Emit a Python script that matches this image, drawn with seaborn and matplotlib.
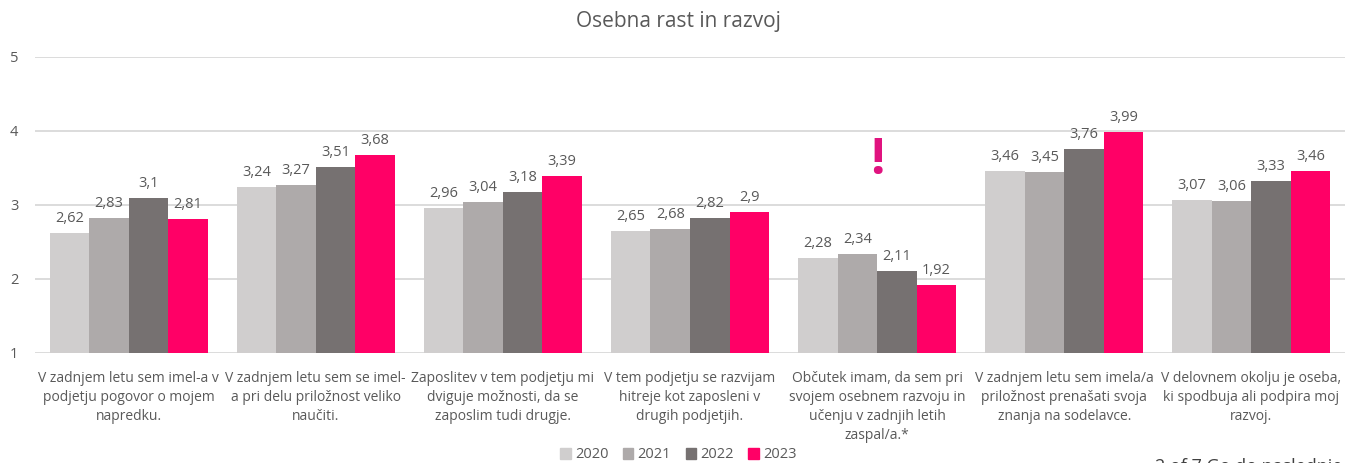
import numpy as np
import pandas as pd
import seaborn as sns
import matplotlib.pyplot as plt

# --------------------------------------------------#
# Data
# --------------------------------------------------#

categories = [
    "V zadnjem letu sem imel-a v\npodjetju pogovor o mojem\nnapredku.",
    "V zadnjem letu sem se imel-\na pri delu priložnost veliko\nnaučiti.",
    "Zaposlitev v tem podjetju mi\ndviguje možnosti, da se\nzaposlim tudi drugje.",
    "V tem podjetju se razvijam\nhitreje kot zaposleni v\ndrugih podjetjih.",
    "Občutek imam, da sem pri\nsvojem osebnem razvoju in\nučenju v zadnjih letih\nzaspal/a.*",
    "V zadnjem letu sem imela/a\npriložnost prenašati svoja\nznanja na sodelavce.",
    "V delovnem okolju je oseba,\nki spodbuja ali podpira moj\nrazvoj.",
]
years = ["2020", "2021", "2022", "2023"]
v2020 = [2.62, 3.24, 2.96, 2.65, 2.28, 3.46, 3.07]
v2021 = [2.83, 3.27, 3.04, 2.68, 2.34, 3.45, 3.06]
v2022 = [3.10, 3.51, 3.18, 2.82, 2.11, 3.76, 3.33]
v2023 = [2.81, 3.68, 3.39, 2.90, 1.92, 3.99, 3.46]

colors = ["#D0CECE", "#AEAAAA", "#767171", "#FF0066"]
text_col = "#595959"

df = pd.DataFrame({
    "cat": categories * 4,
    "year": np.repeat(years, len(categories)),
    "val": v2020 + v2021 + v2022 + v2023,
})

# --------------------------------------------------#
# Plot
# --------------------------------------------------#

sns.set_style("white")
plt.rcParams["font.family"] = ["Open Sans", "DejaVu Sans"]

fig = plt.figure(figsize=(13.57, 4.63), dpi=100)
ax = fig.add_axes([35 / 1357, 1 - 353 / 463, 1310 / 1357, 296 / 463])

sns.barplot(data=df, x="cat", y="val", hue="year", palette=colors,
            width=0.845, gap=0, saturation=1, linewidth=0, ax=ax, legend=False)

# bars start at 1 (Excel axis minimum)
for p in ax.patches:
    h = p.get_height()
    p.set_y(1)
    p.set_height(h - 1)

for cont, vals in zip(ax.containers, [v2020, v2021, v2022, v2023]):
    ax.bar_label(cont, labels=[f"{v:g}".replace(".", ",") for v in vals],
                 padding=5, fontsize=10.5, color=text_col)

ax.set_ylim(1, 5)
ax.set_xlim(-0.5, len(categories) - 0.5)
ax.set_yticks([1, 2, 3, 4, 5])
ax.yaxis.grid(True, color="#D9D9D9", linewidth=1.3)
ax.set_axisbelow(True)
for s in ax.spines.values():
    s.set_visible(False)
ax.tick_params(axis="both", length=0, labelsize=10.5, colors=text_col)
ax.tick_params(axis="y", pad=12)
ax.set_xticks(range(len(categories)))
ax.set_xticklabels(categories, fontsize=10, color=text_col, linespacing=1.35,
                   va="top")
ax.tick_params(axis="x", pad=13)
ax.set_xlabel("")
ax.set_ylabel("")

fig.text(0.5, 1 - 22 / 463, "Osebna rast in razvoj", ha="center", va="center",
         fontsize=15, color=text_col)

# exclamation mark above the 5th group
ax.text(4, 3.6, "!", ha="center", va="center", fontsize=37, fontweight="bold",
        color="#E0137F")

# legend
handles = [plt.Rectangle((0, 0), 1, 1, color=c) for c in colors]
fig.legend(handles, years, loc="center", bbox_to_anchor=(0.5, 1 - 455 / 463),
           ncol=4, frameon=False, fontsize=10.5, labelcolor=text_col,
           handlelength=0.7, handleheight=0.7, handletextpad=0.3,
           columnspacing=1.0)

# cut-off footer text at bottom right
fig.text(1155 / 1357, -4 / 463, "2 of 7 Go do naslednje", fontsize=13,
         color="#404040", va="center", ha="left")

fig.savefig("out.png", dpi=100)
